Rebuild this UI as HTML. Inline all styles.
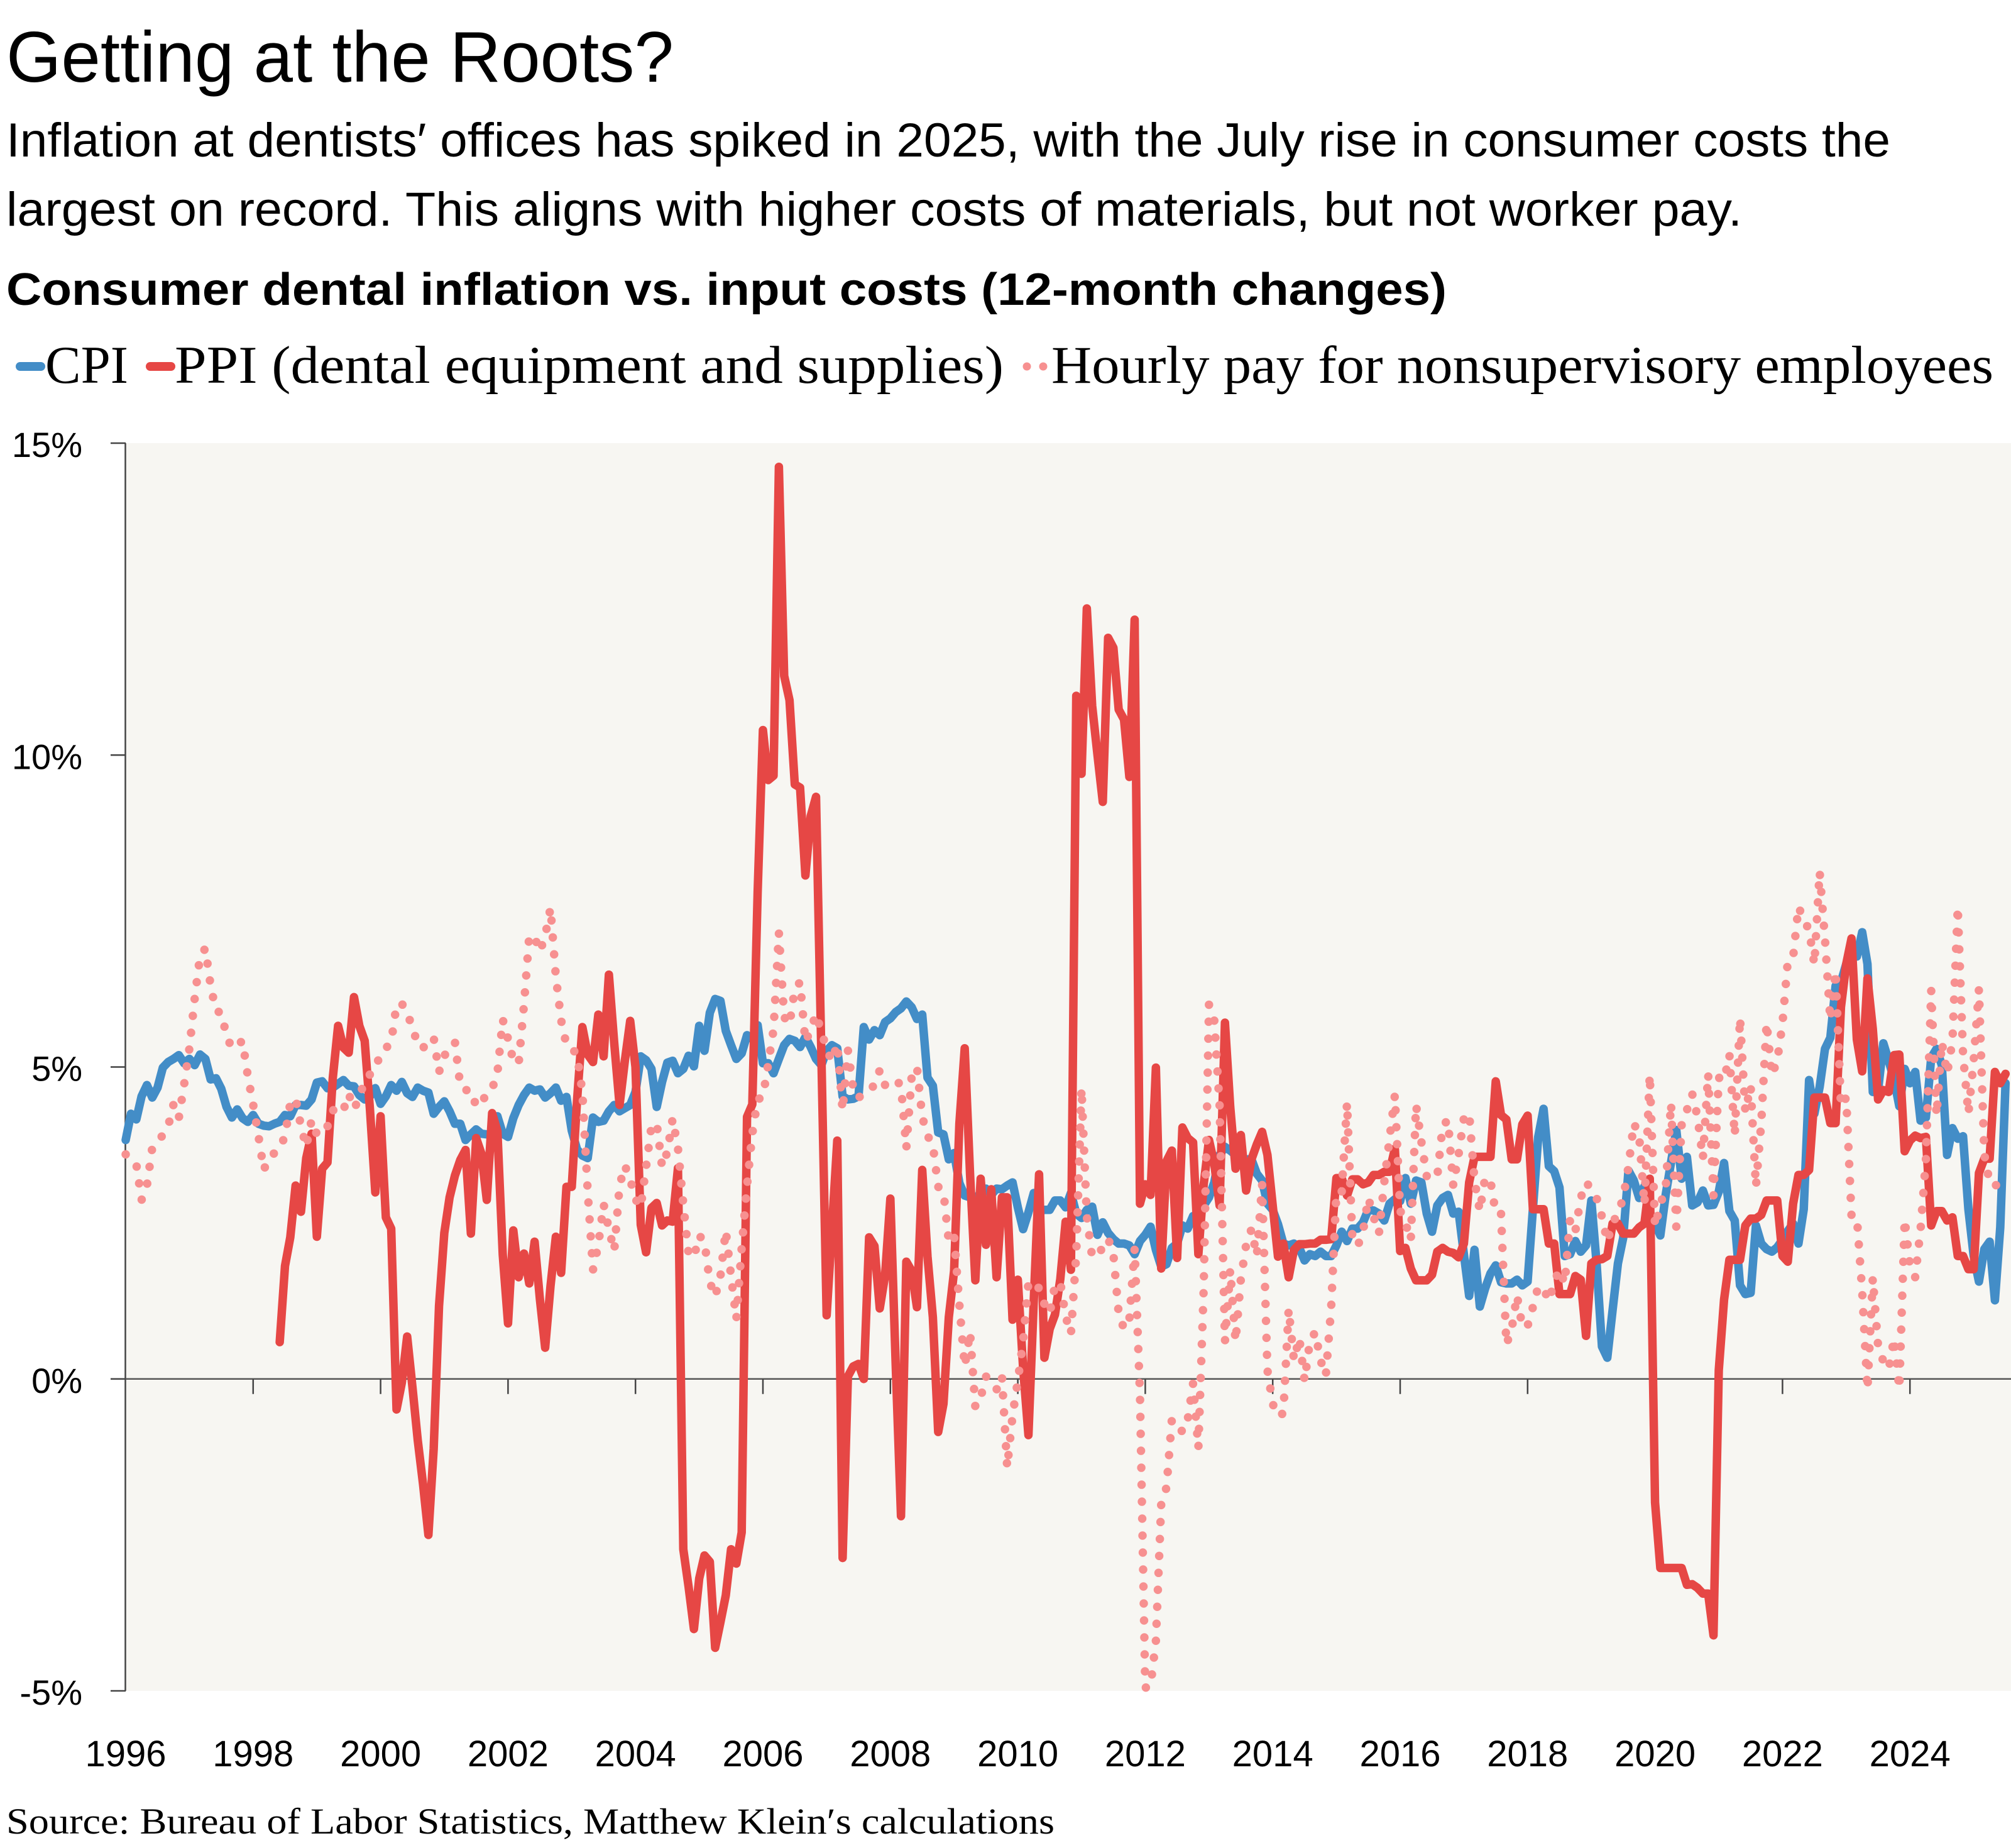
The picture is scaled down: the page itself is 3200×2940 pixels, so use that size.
<!DOCTYPE html>
<html lang="en">
<head>
<meta charset="utf-8">
<title>Getting at the Roots?</title>
<style>
html,body{margin:0;padding:0;background:#fff;}
svg{display:block;}
.sans{font-family:"Liberation Sans",sans-serif;fill:#000;}
.serif{font-family:"Liberation Serif",serif;fill:#000;}
</style>
</head>
<body>
<svg id="chart" xmlns="http://www.w3.org/2000/svg" width="3200" height="2940" viewBox="0 0 3200 2940">
  <rect x="0" y="0" width="3200" height="2940" fill="#fff"/>
  <text class="sans" x="10" y="130" font-size="114" textLength="1062" lengthAdjust="spacingAndGlyphs">Getting at the Roots?</text>
  <text class="sans" x="10" y="249" font-size="76" textLength="2998" lengthAdjust="spacingAndGlyphs">Inflation at dentists′ offices has spiked in 2025, with the July rise in consumer costs the</text>
  <text class="sans" x="10" y="359" font-size="76" textLength="2762" lengthAdjust="spacingAndGlyphs">largest on record. This aligns with higher costs of materials, but not worker pay.</text>
  <text class="sans" x="10" y="485" font-size="72" font-weight="700" textLength="2292" lengthAdjust="spacingAndGlyphs">Consumer dental inflation vs. input costs (12-month changes)</text>

  <g>
    <g>
      <line x1="32" y1="583" x2="65" y2="583" stroke="#438dc7" stroke-width="14" stroke-linecap="round"/>
      <text class="serif" x="72" y="609" font-size="85" textLength="132" lengthAdjust="spacingAndGlyphs">CPI</text>
    </g>
    <g>
      <line x1="239" y1="583" x2="272" y2="583" stroke="#e64745" stroke-width="14" stroke-linecap="round"/>
      <text class="serif" x="278" y="609" font-size="85" textLength="1319" lengthAdjust="spacingAndGlyphs">PPI (dental equipment and supplies)</text>
    </g>
    <g>
      <circle cx="1634" cy="583" r="6.5" fill="#f79090"/>
      <circle cx="1660" cy="583" r="6.5" fill="#f79090"/>
      <text class="serif" x="1673" y="609" font-size="85" textLength="1499" lengthAdjust="spacingAndGlyphs">Hourly pay for nonsupervisory employees</text>
    </g>
  </g>

  <rect x="200" y="705" width="3000" height="1985" fill="#f7f6f2"/>
  <g id="axes"></g>
  <g id="series"></g>

  <text class="serif" x="10" y="2917" font-size="58" textLength="1668" lengthAdjust="spacingAndGlyphs">Source: Bureau of Labor Statistics, Matthew Klein′s calculations</text>
</svg>

<script>
// Monthly observations starting January 1996
const firstYear = 1996;

const cpiValues = [
3.83,4.25,4.16,4.53,4.71,4.51,4.67,4.99,5.08,5.13,
5.19,5.06,5.13,5.03,5.2,5.13,4.8,4.82,4.65,4.36,
4.19,4.32,4.18,4.12,4.23,4.09,4.06,4.05,4.09,4.12,
4.23,4.21,4.39,4.39,4.38,4.48,4.75,4.77,4.66,4.67,
4.73,4.79,4.70,4.69,4.55,4.48,4.53,4.66,4.41,4.53,
4.71,4.62,4.76,4.58,4.52,4.67,4.62,4.59,4.25,4.36,
4.45,4.29,4.09,4.09,3.83,3.92,4.0,3.93,3.92,3.91,
4.21,3.93,3.88,4.18,4.39,4.55,4.67,4.62,4.64,4.51,
4.58,4.67,4.46,4.52,3.98,3.68,3.58,3.54,4.19,4.12,
4.14,4.29,4.39,4.29,4.34,4.39,4.6,5.17,5.11,4.97,
4.36,4.76,5.07,5.1,4.9,4.97,5.18,5.01,5.66,5.26,
5.87,6.09,6.06,5.58,5.35,5.13,5.22,5.51,5.45,5.67,
5.06,5.06,4.9,5.13,5.35,5.45,5.42,5.32,5.48,5.32,
5.13,5.03,5.26,5.35,5.3,4.53,4.48,4.49,4.53,5.64,
5.44,5.59,5.51,5.72,5.78,5.88,5.94,6.05,5.96,5.77,
5.84,4.83,4.7,3.95,3.92,3.52,3.62,3.14,2.94,2.91,
2.85,3.0,3.05,2.95,3.05,3.04,3.1,3.15,2.75,2.4,
2.67,2.98,2.69,2.71,2.71,2.86,2.86,2.75,2.98,2.65,
2.58,2.71,2.76,2.31,2.51,2.34,2.24,2.17,2.17,2.14,
2.0,2.21,2.31,2.44,2.07,1.8,1.84,2.1,2.17,2.46,
2.41,2.61,2.58,2.78,2.91,3.15,3.59,3.72,3.66,3.59,
3.52,3.52,3.52,3.29,3.18,2.81,2.71,2.48,2.17,2.14,
2.17,2.1,1.9,2.0,1.97,2.04,1.97,1.97,2.14,2.36,
2.21,2.41,2.41,2.51,2.71,2.7,2.65,2.54,2.81,2.88,
2.85,3.22,2.81,3.18,3.15,2.65,2.36,2.78,2.9,2.95,
2.65,2.68,2.0,1.33,2.07,1.16,1.45,1.69,1.82,1.55,
1.53,1.53,1.59,1.5,1.56,2.72,3.88,4.33,3.41,3.33,
3.07,1.97,2.0,2.21,2.04,2.14,2.86,1.85,0.52,0.34,
1.1,1.85,2.26,3.34,3.18,2.9,3.09,2.66,2.49,2.3,
2.95,3.47,3.99,3.21,3.56,2.78,2.83,3.02,2.78,2.79,
3.0,3.46,2.69,2.54,1.5,1.36,1.38,2.46,2.17,2.08,
2.04,2.11,2.23,2.37,2.49,2.17,2.72,4.79,4.25,4.68,
5.29,5.47,6.3,6.36,6.65,6.88,6.77,7.16,6.65,4.6,
4.63,5.38,5.1,4.8,4.37,4.97,4.74,4.92,4.14,4.19,
5.15,5.29,5.03,3.59,4.02,3.85,3.89,2.72,1.97,1.56,
2.08,2.2,1.26,2.43,4.74
];

const ppiValues = [
null,null,null,null,null,null,null,null,null,null,
null,null,null,null,null,null,null,null,null,null,
null,null,null,null,null,null,null,null,null,0.59,
1.81,2.27,3.1,2.68,3.54,3.93,2.28,3.37,3.47,4.82,
5.66,5.31,5.23,6.12,5.66,5.42,4.32,2.99,4.21,2.59,
2.41,-0.49,-0.06,0.68,-0.13,-0.98,-1.69,-2.5,-1.12,1.17,
2.34,2.91,3.26,3.51,3.67,2.33,3.86,3.61,2.87,4.26,
3.97,1.99,0.89,2.38,1.63,2.01,1.53,2.2,1.28,0.5,
1.49,2.28,1.7,3.08,3.08,4.46,5.64,5.2,5.08,5.84,
5.17,6.48,5.38,4.39,5.1,5.74,5.0,2.47,2.03,2.74,
2.82,2.46,2.54,2.52,3.38,-2.73,-3.33,-4.01,-3.2,-2.83,
-2.93,-4.31,-3.9,-3.47,-2.73,-2.96,-2.46,4.2,4.4,7.8,
10.4,9.6,9.67,14.62,11.27,10.88,9.53,9.48,8.07,9.02,
9.33,5.2,1.02,2.4,3.82,-2.87,0.04,0.2,0.24,0,
2.27,2.13,1.13,1.66,2.89,0.25,-2.2,1.88,1.73,1.15,
3.35,1.96,0.99,-0.85,-0.4,0.99,1.73,4.09,5.3,3.28,
1.58,3.21,2.15,3.04,1.63,2.91,2.91,0.95,1.59,0.18,
-0.9,1.26,3.28,0.34,0.8,1.03,1.6,2.52,1.75,10.95,
9.7,12.35,10.79,10.0,9.25,11.88,11.72,10.73,10.57,9.65,
12.17,2.81,3.12,2.95,4.99,1.77,3.49,3.66,1.94,4.03,
3.86,3.79,2.0,3.12,3.83,3.45,2.78,5.71,4.36,3.37,
3.91,3.02,3.52,3.76,3.96,3.59,2.78,1.96,2.17,1.63,
2.07,2.16,2.16,2.17,2.17,2.23,2.23,2.24,3.22,3.22,
2.94,3.2,3.2,3.12,3.15,3.27,3.27,3.32,3.32,3.69,
2.05,2.1,1.77,1.58,1.58,1.58,1.67,2.04,2.1,2.04,
2.02,1.95,2.17,3.15,3.56,3.56,3.56,3.56,4.77,4.23,
4.16,3.52,3.52,4.08,4.22,2.72,2.72,2.72,2.17,2.17,
1.36,1.36,1.36,1.65,1.59,0.69,1.85,1.91,1.92,1.97,
2.49,2.49,2.33,2.33,2.33,2.43,2.49,3.21,-1.98,-3.03,
-3.03,-3.03,-3.03,-3.03,-3.3,-3.29,-3.35,-3.44,-3.44,-4.11,
0.14,1.27,1.91,1.91,1.91,2.46,2.57,2.57,2.63,2.86,
2.86,2.86,1.97,1.88,2.81,3.27,3.27,3.35,4.51,4.51,
4.51,4.1,4.1,5.96,6.65,7.06,5.44,4.93,6.42,5.61,
4.48,4.63,4.6,5.19,5.2,3.65,3.82,3.9,3.86,3.88,
2.46,2.69,2.69,2.54,2.59,1.97,1.97,1.76,1.76,3.3,
3.53,3.53,4.92,4.74,4.89
];

const hourlyPayValues = [
3.6,3.5,3.44,2.87,3.1,3.71,3.8,3.91,4.05,4.4,
4.18,4.72,5.3,6.1,6.78,6.9,6.3,5.9,5.87,5.5,
5.3,5.35,5.42,4.85,4.4,3.9,3.35,3.55,3.62,3.68,
3.9,4.42,4.5,4.05,3.72,4.15,3.92,3.92,4.05,4.3,
4.38,4.31,4.57,4.33,4.5,4.8,4.88,4.96,5.23,5.3,
5.4,6.0,6.02,5.85,5.65,5.35,5.3,5.45,5.47,4.92,
5.18,5.3,5.4,4.7,4.63,4.63,4.37,4.4,4.6,4.65,
4.9,5.76,5.45,5.1,5.05,6.0,7.11,7.08,6.85,7.1,
7.55,6.45,5.75,5.35,5.3,5.2,4.6,3.0,1.75,2.15,
2.8,2.4,2.05,3.1,3.42,3.2,2.88,2.75,3.4,4.05,
4.1,3.4,3.64,4.17,3.7,2.8,2.0,1.95,2.3,2.2,
1.55,1.32,1.65,2.38,1.65,0.96,2.1,3.1,3.93,4.48,
4.52,5.05,5.6,7.15,5.8,5.68,6.25,6.36,5.4,5.6,
5.85,5.57,5.29,5.09,5.37,4.3,5.27,4.65,4.5,4.6,
4.65,4.7,4.95,4.71,4.75,4.8,4.7,3.7,4.84,5.0,
4.2,3.9,3.75,3.08,3.0,2.2,2.3,1.19,0.2,0.75,
-0.45,-0.3,0.04,-0.05,-0.17,0.05,-1.42,-0.59,-0.03,0.6,
1.55,1.55,1.45,1.2,1.05,1.5,1.55,1.0,0.72,2.0,
4.66,2.6,1.95,2.0,2.1,2.25,2.0,1.05,0.8,0.95,
2.09,-0.26,-4.95,-4.93,-4.2,-2.0,-1.74,-0.65,-0.72,-0.85,
-0.65,-0.07,-1.11,1.46,6.0,5.75,4.38,0.6,1.75,0.6,
1.6,2.15,2.4,1.97,3.12,0.14,-0.4,-0.6,-0.55,1.12,
0.3,0.66,-0.03,0.6,0.75,0.3,0.05,1.14,3.0,3.0,
4.43,2.26,2.13,2.36,2.9,2.6,2.33,3.15,3.85,4.55,
2.7,2.5,2.22,4.39,3.8,3.25,3.2,3.25,4.06,4.15,
3.1,3.6,4.18,4.26,3.18,2.69,3.23,3.18,2.65,2.65,
0.55,0.8,1.34,0.83,0.85,1.15,1.48,1.45,1.25,1.55,
1.76,1.53,2.56,2.37,2.9,3.15,3.05,2.9,2.6,2.2,
2.5,2.65,2.9,3.4,4.1,3.9,2.79,4.88,2.44,2.8,
3.05,4.42,2.44,4.07,4.31,4.57,4.2,3.53,4.89,2.94,
4.83,4.78,5.2,3.9,5.79,4.28,4.7,3.08,4.1,5.71,
4.87,5.1,5.7,6.7,6.76,7.57,7.36,7.2,6.64,8.13,
7.05,5.75,6.54,4.37,4.51,2.62,2.6,1.4,-0.17,1.62,
0.53,0.28,0.16,0.65,-0.16,2.56,1.82,1.63,2.4,3.52,
6.23,4.22,5.4,4.89,5.41,7.57,5.2,4.25,5.1,6.25,
3.6,3.15,3.15,2.93
];

const yTickValues = [15, 10, 5, 0, -5];
const xTickYears = [1996,1998,2000,2002,2004,2006,2008,2010,2012,2014,2016,2018,2020,2022,2024];

const NS = 'http://www.w3.org/2000/svg';
const PLOT = { left: 200, right: 3200, top: 705, bottom: 2690 };
const PX_PER_YEAR = 101.4;

function xScale(yearFraction) {
  return PLOT.left + (yearFraction - firstYear) * PX_PER_YEAR;
}
function yScale(v) {
  return PLOT.bottom - (v + 5) / 20 * (PLOT.bottom - PLOT.top);
}
function svgEl(tag, attrs) {
  const el = document.createElementNS(NS, tag);
  for (const k in attrs) el.setAttribute(k, attrs[k]);
  return el;
}
function linePath(values) {
  let d = '';
  values.forEach(function (v, i) {
    if (v === null) return;
    const px = xScale(firstYear + i / 12).toFixed(1);
    const py = yScale(v).toFixed(1);
    d += (d === '' ? 'M' : 'L') + px + ' ' + py;
  });
  return d;
}

const axes = document.getElementById('axes');
const seriesGroup = document.getElementById('series');

const yAxisLine = svgEl('line', { x1: 199.5, y1: PLOT.top, x2: 199.5, y2: PLOT.bottom, stroke: '#444', 'stroke-width': 2.5 });


axes.appendChild(yAxisLine);

const zeroLine = svgEl('line', { x1: PLOT.left, y1: yScale(0), x2: PLOT.right, y2: yScale(0), stroke: '#555', 'stroke-width': 2.5 });


axes.appendChild(zeroLine);

yTickValues.forEach(function (v) {
  const tick = svgEl('line', { x1: 176, y1: yScale(v), x2: 200, y2: yScale(v), stroke: '#444', 'stroke-width': 2.5 });
  
  
  axes.appendChild(tick);

  const label = svgEl('text', { x: 131, y: yScale(v) + 22, 'text-anchor': 'end', 'font-size': 56, 'class': 'sans' });
  
  
  label.textContent = v + '%';
  axes.appendChild(label);
});

xTickYears.forEach(function (yr) {
  if (yr !== firstYear) {
    const tick = svgEl('line', { x1: xScale(yr), y1: yScale(0), x2: xScale(yr), y2: yScale(0) + 24, stroke: '#444', 'stroke-width': 2.5 });
    
    
    axes.appendChild(tick);
  }
  const label = svgEl('text', { x: xScale(yr), y: 2810, 'text-anchor': 'middle', 'font-size': 58, 'class': 'sans' });
  
  
  label.textContent = yr;
  axes.appendChild(label);
});

const cpiLine = svgEl('path', { d: linePath(cpiValues), fill: 'none', stroke: '#438dc7', 'stroke-width': 13.5, 'stroke-linejoin': 'round', 'stroke-linecap': 'round' });


seriesGroup.appendChild(cpiLine);

const ppiLine = svgEl('path', { d: linePath(ppiValues), fill: 'none', stroke: '#e64745', 'stroke-width': 13.5, 'stroke-linejoin': 'round', 'stroke-linecap': 'round' });


seriesGroup.appendChild(ppiLine);

const payLine = svgEl('path', { d: linePath(hourlyPayValues), fill: 'none', stroke: '#f79090', 'stroke-width': 13.5, 'stroke-linejoin': 'round', 'stroke-linecap': 'round', 'stroke-dasharray': '0 27' });


seriesGroup.appendChild(payLine);
</script>
</body>
</html>
